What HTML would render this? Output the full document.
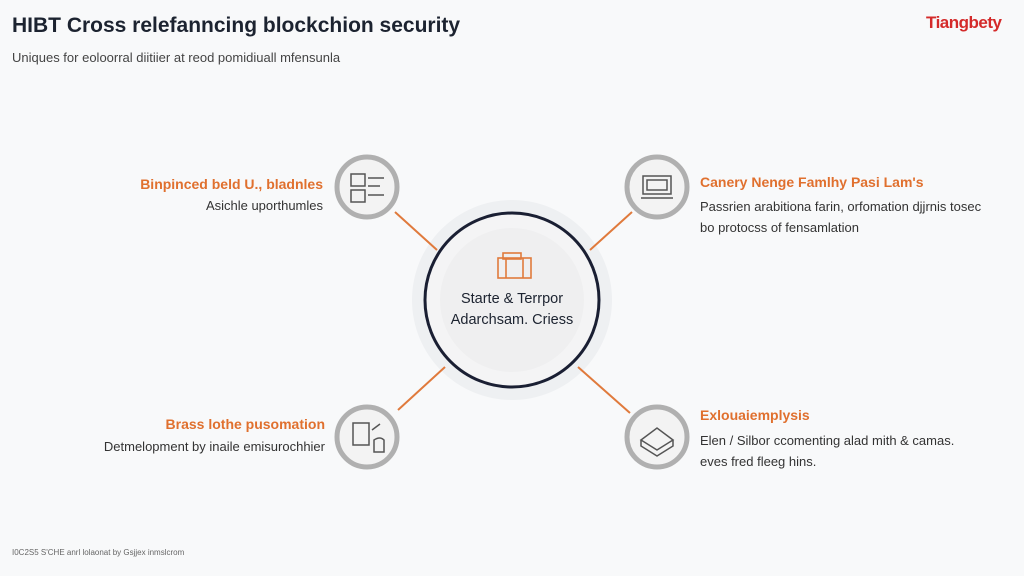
<!DOCTYPE html>
<html><head><meta charset="utf-8"><style>
html,body{margin:0;padding:0;width:1024px;height:576px;overflow:hidden;background:#f8f9fa;font-family:"Liberation Sans",sans-serif}
.t{position:absolute;white-space:nowrap}
</style></head><body>
<div class="t" style="left:12px;top:14px;font-size:21px;font-weight:bold;color:#1c2330">HIBT Cross relefanncing blockchion security</div>
<div class="t" style="left:12px;top:50px;font-size:13px;color:#444">Uniques for eoloorral diitiier at reod pomidiuall mfensunla</div>
<div class="t" style="left:926px;top:13px;font-size:17px;font-weight:bold;color:#d42a2a;letter-spacing:-0.5px">Tiangbety</div>
<div class="t" style="left:12px;top:548px;font-size:8px;color:#666">I0C2S5 S'CHE anrl lolaonat by Gsjjex inmslcrom</div>

<svg style="position:absolute;left:0;top:0" width="1024" height="576">
<circle cx="512" cy="300" r="100" fill="#eef0f2"/>
<g stroke="#e07a3c" stroke-width="2">
<line x1="395" y1="212" x2="437" y2="250"/>
<line x1="590" y1="250" x2="632" y2="212"/>
<line x1="398" y1="410" x2="445" y2="367"/>
<line x1="578" y1="367" x2="630" y2="413"/>
</g>
<circle cx="512" cy="300" r="87" fill="#f4f4f5" stroke="#1a1f33" stroke-width="3"/>
<circle cx="512" cy="300" r="72" fill="#efeff0"/>
<g fill="none" stroke="#e07a3c" stroke-width="1.6">
<rect x="498" y="258" width="33" height="20"/>
<rect x="503" y="253" width="18" height="6"/>
<line x1="506" y1="258" x2="506" y2="278"/><line x1="523" y1="258" x2="523" y2="278"/>
</g>
<g fill="#f3f3f3" stroke="#b0b0b0" stroke-width="5">
<circle cx="367" cy="187" r="30"/>
<circle cx="657" cy="187" r="30"/>
<circle cx="367" cy="437" r="30"/>
<circle cx="657" cy="437" r="30"/>
</g>
<g fill="none" stroke="#555" stroke-width="1.5">
<rect x="351" y="174" width="14" height="12"/><rect x="351" y="190" width="14" height="12"/>
<line x1="368" y1="178" x2="384" y2="178"/><line x1="368" y1="186" x2="380" y2="186"/><line x1="368" y1="195" x2="384" y2="195"/>
<rect x="643" y="176" width="28" height="18"/><rect x="647" y="180" width="20" height="10"/><line x1="641" y1="198" x2="673" y2="198"/>
<rect x="353" y="423" width="16" height="22"/><path d="M372 430 l8 -6 M374 440 q6 -4 10 0 v12 h-10z"/>
<path d="M641 440 l16 -12 l16 12 l-16 10z M641 440 v6 l16 10 l16 -10 v-6"/>
</g>
</svg>

<div class="t" style="left:450px;top:289px;width:124px;text-align:center;font-size:14.5px;color:#1c2330;line-height:21px">Starte &amp; Terrpor<br>Adarchsam. Criess</div>

<div class="t" style="right:701px;top:176px;font-size:14px;font-weight:bold;color:#e0702e;text-align:right">Binpinced beld U., bladnles</div>
<div class="t" style="right:701px;top:198px;font-size:13px;color:#333;text-align:right">Asichle uporthumles</div>

<div class="t" style="left:700px;top:174px;font-size:14px;font-weight:bold;color:#e0702e">Canery Nenge Famlhy Pasi Lam's</div>
<div class="t" style="left:700px;top:196px;font-size:13px;color:#333;line-height:21px">Passrien arabitiona farin, orfomation djjrnis tosec<br>bo protocss of fensamlation</div>

<div class="t" style="right:699px;top:416px;font-size:14px;font-weight:bold;color:#e0702e;text-align:right">Brass lothe pusomation</div>
<div class="t" style="right:699px;top:439px;font-size:13px;color:#333;text-align:right">Detmelopment by inaile emisurochhier</div>

<div class="t" style="left:700px;top:407px;font-size:14px;font-weight:bold;color:#e0702e">Exlouaiemplysis</div>
<div class="t" style="left:700px;top:430px;font-size:13px;color:#333;line-height:21px">Elen / Silbor ccomenting alad mith &amp; camas.<br>eves fred fleeg hins.</div>
</body></html>
